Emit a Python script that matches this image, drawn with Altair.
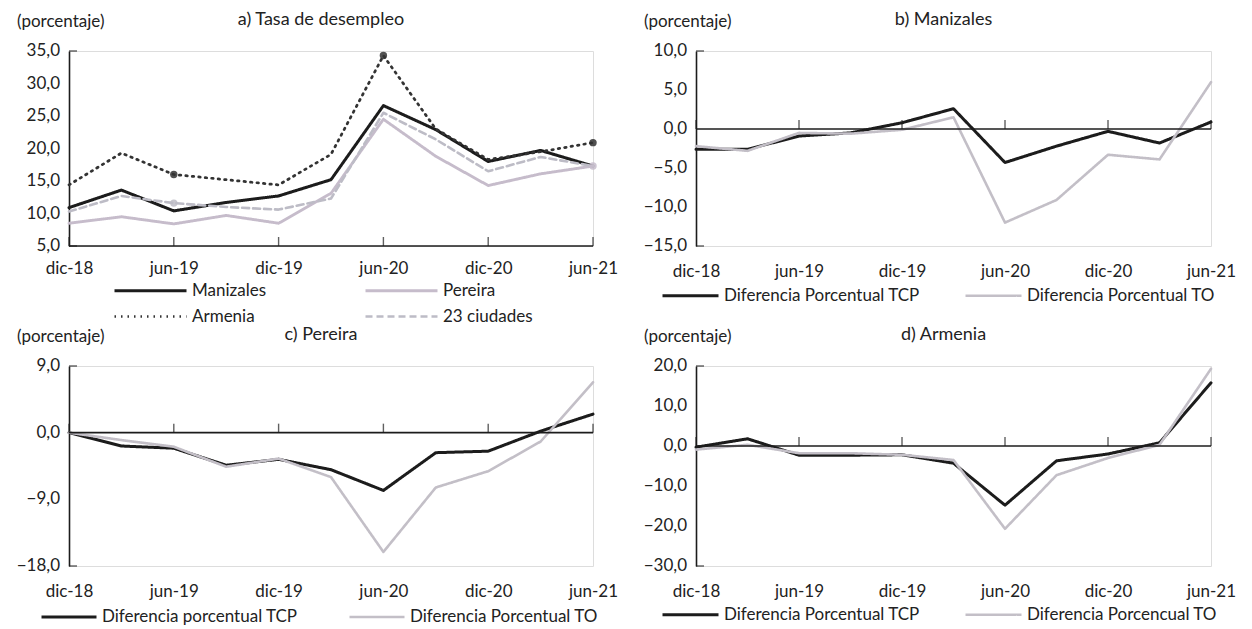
import altair as alt
import pandas as pd

# ---------------- data ----------------
periods = ["dic-18", "mar-19", "jun-19", "sep-19", "dic-19", "mar-20",
           "jun-20", "sep-20", "dic-20", "mar-21", "jun-21"]
tick_labels = ["dic-18", "jun-19", "dic-19", "jun-20", "dic-20", "jun-21"]
unit_label = "(porcentaje)"

# a) Tasa de desempleo
manizales = [10.9, 13.6, 10.4, 11.7, 12.7, 15.2, 26.6, 22.9, 18.0, 19.7, 17.3]
pereira = [8.5, 9.5, 8.4, 9.7, 8.5, 13.1, 24.5, 18.8, 14.3, 16.1, 17.3]
armenia = [14.4, 19.3, 16.0, 15.2, 14.4, 19.1, 34.3, 23.0, 18.3, 19.5, 20.9]
ciudades23 = [10.3, 12.7, 11.6, 11.0, 10.6, 12.3, 25.5, 21.4, 16.5, 18.7, 17.3]
markers_a = [("Armenia", "jun-19"), ("Armenia", "jun-20"), ("Armenia", "jun-21"),
             ("23 ciudades", "jun-19"), ("Pereira", "jun-21")]

# b) Manizales
tcp_b = [-2.6, -2.6, -0.9, -0.5, 0.8, 2.6, -4.3, -2.2, -0.3, -1.8, 0.9]
to_b = [-2.2, -2.8, -0.5, -0.6, -0.1, 1.5, -12.0, -9.1, -3.3, -3.9, 6.0]

# c) Pereira
tcp_c = [0.0, -1.8, -2.1, -4.4, -3.6, -5.0, -7.8, -2.7, -2.5, 0.2, 2.5]
to_c = [0.0, -1.0, -1.9, -4.6, -3.5, -6.0, -16.1, -7.4, -5.2, -1.2, 6.8]

# d) Armenia
tcp_d = [-0.3, 1.8, -2.3, -2.3, -2.2, -4.3, -14.8, -3.7, -2.0, 0.8, 15.8]
to_d = [-0.9, 0.3, -1.8, -1.8, -2.2, -3.5, -20.7, -7.3, -3.0, 0.3, 19.3]

FONT = "Lato"
BLACK = "#1c1c1c"
TXT = "#222222"
LIGHT = "#c3bfc7"
# wide line symbol for legends whose rows must sit close together
WIDE_STROKE = "M-6.2,0H1"


def long_df(series_dict):
    rows = []
    for name, vals in series_dict.items():
        for p, v in zip(periods, vals):
            rows.append({"period": p, "series": name, "value": v})
    return pd.DataFrame(rows)


def panel(series_dict, colors, dashes, widths, ydom, ystep, title,
          legend, baseline, width, height, markers=None, xpad=17):
    names = list(series_dict.keys())
    df = long_df(series_dict)
    xenc = alt.X("period:O", sort=periods,
                 scale=alt.Scale(type="point", padding=0),
                 axis=alt.Axis(values=tick_labels, labelAngle=0, domain=False,
                               ticks=False, labelPadding=xpad, title=None,
                               labelOverlap=False,
                               labelFont=FONT, labelFontSize=17,
                               labelColor=TXT))
    yvals = list(range(ydom[0], ydom[1] + 1, ystep))
    yscale = alt.Scale(domain=ydom, nice=False, zero=False)
    yenc = alt.Y("value:Q", scale=yscale,
                 axis=alt.Axis(values=yvals, grid=False, ticks=False, labels=False,
                               domainColor=BLACK, domainWidth=1.6, title=None))
    color = alt.Color("series:N", sort=names,
                      scale=alt.Scale(domain=names, range=colors), legend=legend)
    dash = alt.StrokeDash("series:N", sort=names,
                          scale=alt.Scale(domain=names, range=dashes), legend=legend)
    sw = alt.StrokeWidth("series:N", sort=names,
                         scale=alt.Scale(domain=names, range=widths), legend=None)

    lines = alt.Chart(df).mark_line(strokeCap="round", strokeJoin="round").encode(
        x=xenc, y=yenc, color=color, strokeDash=dash, strokeWidth=sw)

    yq = alt.Y("value:Q", scale=yscale)
    base_df = pd.DataFrame({"value": [baseline]})
    rule = alt.Chart(base_df).mark_rule(color=BLACK, strokeWidth=1.6).encode(y=yq)
    tick_df = pd.DataFrame({"period": tick_labels, "value": [baseline] * len(tick_labels)})
    ticks = alt.Chart(tick_df).mark_tick(orient="vertical", size=9, yOffset=-4.5,
                                         thickness=1.4, color=BLACK).encode(
        x=alt.X("period:O", sort=periods), y=yq)
    end_df = pd.DataFrame({"period": [periods[0], periods[0]], "value": list(ydom)})
    yticks = alt.Chart(end_df).mark_tick(orient="horizontal", size=8, xOffset=4,
                                         thickness=1.4, color=BLACK).encode(
        x=alt.X("period:O", sort=periods), y=yq)

    # y tick labels with decimal comma
    ylab = alt.Chart(pd.DataFrame({"value": yvals})).transform_calculate(
        lab="replace(format(datum.value, '.1f'), '.', ',')"
    ).mark_text(align="right", baseline="middle", font=FONT, fontSize=17,
                color=TXT, dx=-9).encode(x=alt.value(0), y=yq, text="lab:N")
    unit = alt.Chart(pd.DataFrame({"t": [unit_label]})).mark_text(
        align="left", baseline="middle", font=FONT, fontSize=17, color=TXT
    ).encode(x=alt.value(-52), y=alt.value(-29), text="t:N")

    layers = [lines, rule, ticks, yticks, ylab, unit]
    if markers is not None:
        lookup = {(n, p): v for n, vals in series_dict.items() for p, v in zip(periods, vals)}
        mdf = pd.DataFrame([{"series": n, "period": p, "value": lookup[(n, p)]}
                            for n, p in markers])
        pts = alt.Chart(mdf).mark_circle(size=55, opacity=0.85).encode(
            x=alt.X("period:O", sort=periods), y=yq,
            color=alt.Color("series:N", sort=names,
                            scale=alt.Scale(domain=names, range=colors), legend=None))
        layers.append(pts)

    return alt.layer(*layers).properties(
        width=width, height=height,
        title=alt.TitleParams(title, anchor="middle", frame="group", font=FONT,
                              fontSize=18, fontWeight="normal", color=TXT,
                              offset=-16, dx=-10))


def leg(x, y, size, colpad, rowpad=0, symbol="stroke"):
    return alt.Legend(orient="none", legendX=x, legendY=y, direction="horizontal",
                      columns=2, title=None, symbolType=symbol, symbolSize=size,
                      symbolStrokeWidth=3, labelFont=FONT, labelFontSize=17,
                      labelColor=TXT, columnPadding=colpad, rowPadding=rowpad,
                      labelOffset=4, labelLimit=500)


pa = panel({"Manizales": manizales, "Pereira": pereira,
            "Armenia": armenia, "23 ciudades": ciudades23},
           [BLACK, "#c6bccb", "#333333", "#bdbcc6"],
           [[1, 0], [1, 0], [1.5, 5], [7, 4]], [3, 2.6, 2.2, 2.6],
           [5, 35], 5, "a) Tasa de desempleo",
           leg(96, 228, 400, 92, 6, WIDE_STROKE), 5, 524, 195, markers_a, xpad=14)

pb = panel({"Diferencia Porcentual TCP": tcp_b, "Diferencia Porcentual TO": to_b},
           [BLACK, LIGHT], [[1, 0], [1, 0]], [3, 2.6],
           [-15, 10], 5, "b) Manizales", leg(-35, 215, 3136, 40), 0, 515, 195)

pc = panel({"Diferencia porcentual TCP": tcp_c, "Diferencia Porcentual TO": to_c},
           [BLACK, LIGHT], [[1, 0], [1, 0]], [3, 2.6],
           [-18, 9], 9, "c) Pereira", leg(-29, 222, 3025, 46), 0, 524, 200)

pd_ = panel({"Diferencia Porcentual TCP": tcp_d, "Diferencia Porcencual TO": to_d},
            [BLACK, LIGHT], [[1, 0], [1, 0]], [3, 2.6],
            [-30, 20], 10, "d) Armenia", leg(-35, 219, 3136, 40), 0, 515, 200)

chart = alt.concat(pa, pb, pc, pd_, columns=2, bounds="flush",
                   spacing={"row": 120, "column": 103}).resolve_scale(
    color="independent", strokeDash="independent", strokeWidth="independent"
).properties(
    padding={"left": 8, "top": 2, "right": 5, "bottom": 5}
).configure_view(stroke=None).configure(background="white")

chart.save("out.html", embed_options={"renderer": "svg", "actions": False})
